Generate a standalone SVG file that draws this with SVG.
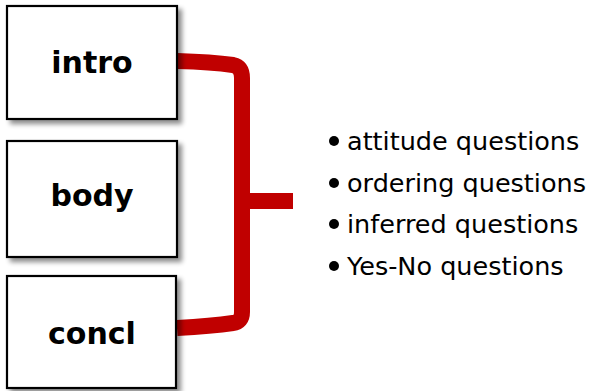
<svg xmlns="http://www.w3.org/2000/svg" width="591" height="391" viewBox="0 0 591 391">
  <defs>
    <filter id="sh" x="-10%" y="-10%" width="130%" height="130%">
      <feGaussianBlur in="SourceAlpha" stdDeviation="2.5"/>
      <feOffset dx="4" dy="4" result="b"/>
      <feComponentTransfer><feFuncA type="linear" slope="0.45"/></feComponentTransfer>
      <feMerge><feMergeNode/><feMergeNode in="SourceGraphic"/></feMerge>
    </filter>
  </defs>
  <style>
    .box{fill:#fff;stroke:#000;stroke-width:2.2}
    .lbl{font-family:"DejaVu Sans",sans-serif;font-weight:bold;font-size:30px;fill:#000;text-anchor:middle}
    .item{font-family:"DejaVu Sans",sans-serif;font-size:25.5px;fill:#000}
    .br{fill:none;stroke:#C00000;stroke-width:16}
  </style>
  <g id="connectors">
    <path class="br" d="M177,61 Q212,62 233,65 Q242,67 242,78 L242,312 Q242,322 233,323 Q212,326 177,328"/>
    <path class="br" d="M242,201 L293,201" stroke-width="17"/>
  </g>
  <g id="intro">
    <rect class="box" x="7" y="6" width="170" height="113" filter="url(#sh)"/>
    <text class="lbl" x="92" y="73">intro</text>
  </g>
  <g id="body">
    <rect class="box" x="7" y="141" width="170" height="116" filter="url(#sh)"/>
    <text class="lbl" x="92" y="206">body</text>
  </g>
  <g id="concl">
    <rect class="box" x="7" y="276" width="169" height="112" filter="url(#sh)"/>
    <text class="lbl" x="92" y="344">concl</text>
  </g>
  <g id="list">
    <circle cx="334" cy="141" r="5"/>
    <text class="item" x="347" y="150">attitude questions</text>
    <circle cx="334" cy="183" r="5"/>
    <text class="item" x="347" y="192">ordering questions</text>
    <circle cx="334" cy="224" r="5"/>
    <text class="item" x="347" y="233">inferred questions</text>
    <circle cx="334" cy="266" r="5"/>
    <text class="item" x="347" y="275">Yes-No questions</text>
  </g>
</svg>
